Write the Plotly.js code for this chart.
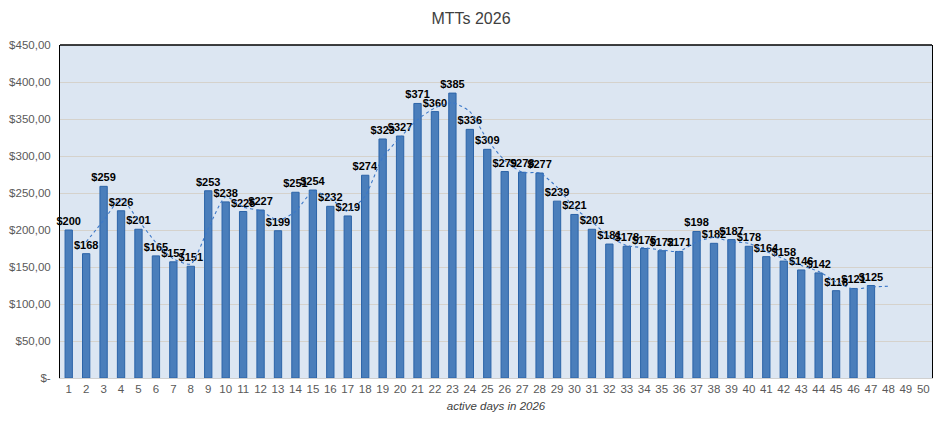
<!DOCTYPE html>
<html>
<head>
<meta charset="utf-8">
<script src="https://cdn.plot.ly/plotly-3.0.1.min.js"></script>
<style>
  html, body { margin: 0; padding: 0; background: #fff; }
  #plot { width: 942px; height: 439px; }
</style>
</head>
<body>
<div id="plot"></div>
<script>
// day numbers on the x axis (1..50), only 47 have a value so far
var days = [];
for (var d = 1; d <= 50; d++) days.push(d);

// MTT results per active day
var mtt = [200, 168, 259, 226, 201, 165, 157, 151, 253, 238,
           225, 227, 199, 251, 254, 232, 219, 274, 323, 327,
           371, 360, 385, 336, 309, 279, 278, 277, 239, 221,
           201, 181, 178, 175, 172, 171, 198, 182, 187, 178,
           164, 158, 146, 142, 118, 121, 125];

// dotted trend line (2 period moving average), days 2..48
var trendDays = [2, 3, 4, 5, 6, 7, 8, 9, 10, 11, 12, 13, 14, 15, 16, 17, 18, 19, 20, 21, 22, 23, 24, 25,
                 26, 27, 28, 29, 30, 31, 32, 33, 34, 35, 36, 37, 38, 39, 40, 41, 42, 43, 44, 45, 46, 47, 48];
var trend = [184, 213, 242, 213, 183, 161, 154, 202, 245, 231, 226, 213, 225, 252, 243, 225, 246, 298, 325, 349, 365, 372, 360, 322,
             294, 278, 277, 258, 230, 211, 191, 179, 176, 173, 171, 184, 190, 184, 182, 171, 161, 152, 144, 130, 120, 123, 124];

// y axis ticks
var yTicks = [0, 50, 100, 150, 200, 250, 300, 350, 400, 450];
var yTickText = ['$-', '$50,00', '$100,00', '$150,00', '$200,00', '$250,00', '$300,00', '$350,00', '$400,00', '$450,00'];

var labels = mtt.map(function (v) { return '$' + v; });

var bars = {
  x: days.slice(0, mtt.length),
  y: mtt,
  type: 'bar',
  width: 0.42,
  marker: { color: '#4a7ebb', line: { color: '#2c64a8', width: 1 } },
  text: labels,
  textposition: 'outside',
  constraintext: 'none',
  cliponaxis: false,
  textfont: { family: 'Liberation Sans', size: 11, color: '#000', weight: 'bold' },
  hoverinfo: 'none'
};

var line = {
  x: trendDays,
  y: trend,
  type: 'scatter',
  mode: 'lines',
  line: { color: '#3c78c8', width: 1.1, dash: 'dot', shape: 'spline', smoothing: 0.6 },
  hoverinfo: 'none'
};

var layout = {
  width: 942,
  height: 439,
  margin: { l: 60, r: 10, t: 45, b: 61 },
  paper_bgcolor: '#ffffff',
  plot_bgcolor: '#dce6f2',
  showlegend: false,
  font: { family: 'Liberation Sans', color: '#595959' },
  title: {
    text: 'MTTs 2026',
    font: { family: 'Liberation Sans', size: 16, color: '#404040' },
    x: 0.5, xanchor: 'center',
    y: 0.958, yanchor: 'middle', yref: 'container'
  },
  xaxis: {
    range: [0.5, 50.5],
    tickmode: 'array',
    tickvals: days,
    ticktext: days.map(String),
    tickfont: { size: 11.5, color: '#595959' },
    ticks: '',
    showgrid: false,
    zeroline: false,
    showline: true,
    linecolor: '#d0d0d0',
    linewidth: 1,
    title: {
      text: '<i>active days in 2026</i>',
      font: { size: 11.5, color: '#404040' },
      standoff: 8
    }
  },
  yaxis: {
    range: [0, 450],
    tickmode: 'array',
    tickvals: yTicks,
    ticktext: yTickText,
    tickfont: { size: 11.5, color: '#595959' },
    ticks: '',
    ticklabelstandoff: 6,
    showgrid: true,
    gridcolor: '#d5d2cc',
    gridwidth: 1,
    zeroline: false,
    showline: true,
    mirror: true,
    linecolor: '#000000',
    linewidth: 1
  },
  shapes: [
    { type: 'line', xref: 'paper', yref: 'paper', x0: 0, x1: 1, y0: 1, y1: 1,
      line: { color: '#000000', width: 1.5 } }
  ]
};

Plotly.newPlot('plot', [bars, line], layout, { displayModeBar: false, staticPlot: true });
</script>
</body>
</html>
